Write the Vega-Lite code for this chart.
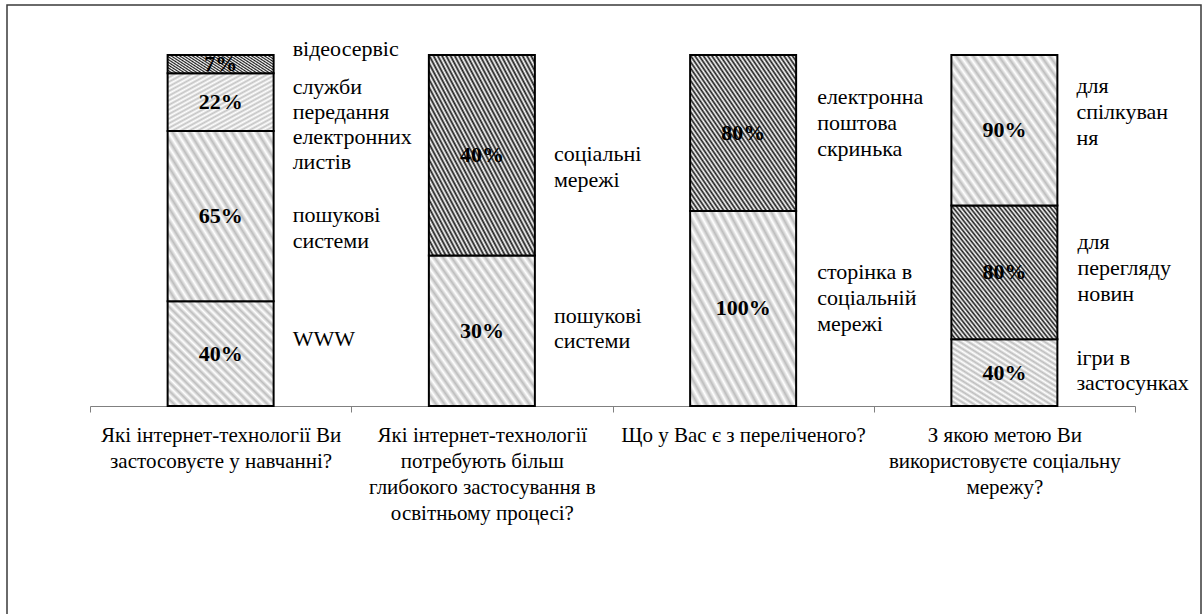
{
  "$schema": "https://vega.github.io/schema/vega-lite/v6.json",
  "width": 1194,
  "height": 612,
  "autosize": {"type": "none"},
  "padding": {"left": 7, "top": 5, "right": 3, "bottom": -3},
  "config": {
    "view": {"stroke": "#3a3a3a", "strokeWidth": 1.5},
    "font": "Times New Roman, Liberation Serif, DejaVu Serif, serif"
  },
  "params": [
    {"name": "dense", "value": {"gradient": "linear", "x1": 0, "y1": 1, "x2": 1, "y2": 0, "stops": [
      {"offset": 0.00, "color": "#1a1a1a"}, {"offset": 0.01, "color": "#ffffff"}, {"offset": 0.02, "color": "#1a1a1a"}, {"offset": 0.03, "color": "#ffffff"}, {"offset": 0.04, "color": "#1a1a1a"},
      {"offset": 0.05, "color": "#ffffff"}, {"offset": 0.06, "color": "#1a1a1a"}, {"offset": 0.07, "color": "#ffffff"}, {"offset": 0.08, "color": "#1a1a1a"}, {"offset": 0.09, "color": "#ffffff"},
      {"offset": 0.10, "color": "#1a1a1a"}, {"offset": 0.11, "color": "#ffffff"}, {"offset": 0.12, "color": "#1a1a1a"}, {"offset": 0.13, "color": "#ffffff"}, {"offset": 0.14, "color": "#1a1a1a"},
      {"offset": 0.15, "color": "#ffffff"}, {"offset": 0.16, "color": "#1a1a1a"}, {"offset": 0.17, "color": "#ffffff"}, {"offset": 0.18, "color": "#1a1a1a"}, {"offset": 0.19, "color": "#ffffff"},
      {"offset": 0.20, "color": "#1a1a1a"}, {"offset": 0.21, "color": "#ffffff"}, {"offset": 0.22, "color": "#1a1a1a"}, {"offset": 0.23, "color": "#ffffff"}, {"offset": 0.24, "color": "#1a1a1a"},
      {"offset": 0.25, "color": "#ffffff"}, {"offset": 0.26, "color": "#1a1a1a"}, {"offset": 0.27, "color": "#ffffff"}, {"offset": 0.28, "color": "#1a1a1a"}, {"offset": 0.29, "color": "#ffffff"},
      {"offset": 0.30, "color": "#1a1a1a"}, {"offset": 0.31, "color": "#ffffff"}, {"offset": 0.32, "color": "#1a1a1a"}, {"offset": 0.33, "color": "#ffffff"}, {"offset": 0.34, "color": "#1a1a1a"},
      {"offset": 0.35, "color": "#ffffff"}, {"offset": 0.36, "color": "#1a1a1a"}, {"offset": 0.37, "color": "#ffffff"}, {"offset": 0.38, "color": "#1a1a1a"}, {"offset": 0.39, "color": "#ffffff"},
      {"offset": 0.40, "color": "#1a1a1a"}, {"offset": 0.41, "color": "#ffffff"}, {"offset": 0.42, "color": "#1a1a1a"}, {"offset": 0.43, "color": "#ffffff"}, {"offset": 0.44, "color": "#1a1a1a"},
      {"offset": 0.45, "color": "#ffffff"}, {"offset": 0.46, "color": "#1a1a1a"}, {"offset": 0.47, "color": "#ffffff"}, {"offset": 0.48, "color": "#1a1a1a"}, {"offset": 0.49, "color": "#ffffff"},
      {"offset": 0.50, "color": "#1a1a1a"}, {"offset": 0.51, "color": "#ffffff"}, {"offset": 0.52, "color": "#1a1a1a"}, {"offset": 0.53, "color": "#ffffff"}, {"offset": 0.54, "color": "#1a1a1a"},
      {"offset": 0.55, "color": "#ffffff"}, {"offset": 0.56, "color": "#1a1a1a"}, {"offset": 0.57, "color": "#ffffff"}, {"offset": 0.58, "color": "#1a1a1a"}, {"offset": 0.59, "color": "#ffffff"},
      {"offset": 0.60, "color": "#1a1a1a"}, {"offset": 0.61, "color": "#ffffff"}, {"offset": 0.62, "color": "#1a1a1a"}, {"offset": 0.63, "color": "#ffffff"}, {"offset": 0.64, "color": "#1a1a1a"},
      {"offset": 0.65, "color": "#ffffff"}, {"offset": 0.66, "color": "#1a1a1a"}, {"offset": 0.67, "color": "#ffffff"}, {"offset": 0.68, "color": "#1a1a1a"}, {"offset": 0.69, "color": "#ffffff"},
      {"offset": 0.70, "color": "#1a1a1a"}, {"offset": 0.71, "color": "#ffffff"}, {"offset": 0.72, "color": "#1a1a1a"}, {"offset": 0.73, "color": "#ffffff"}, {"offset": 0.74, "color": "#1a1a1a"},
      {"offset": 0.75, "color": "#ffffff"}, {"offset": 0.76, "color": "#1a1a1a"}, {"offset": 0.77, "color": "#ffffff"}, {"offset": 0.78, "color": "#1a1a1a"}, {"offset": 0.79, "color": "#ffffff"},
      {"offset": 0.80, "color": "#1a1a1a"}, {"offset": 0.81, "color": "#ffffff"}, {"offset": 0.82, "color": "#1a1a1a"}, {"offset": 0.83, "color": "#ffffff"}, {"offset": 0.84, "color": "#1a1a1a"},
      {"offset": 0.85, "color": "#ffffff"}, {"offset": 0.86, "color": "#1a1a1a"}, {"offset": 0.87, "color": "#ffffff"}, {"offset": 0.88, "color": "#1a1a1a"}, {"offset": 0.89, "color": "#ffffff"},
      {"offset": 0.90, "color": "#1a1a1a"}, {"offset": 0.91, "color": "#ffffff"}, {"offset": 0.92, "color": "#1a1a1a"}, {"offset": 0.93, "color": "#ffffff"}, {"offset": 0.94, "color": "#1a1a1a"},
      {"offset": 0.95, "color": "#ffffff"}, {"offset": 0.96, "color": "#1a1a1a"}, {"offset": 0.97, "color": "#ffffff"}, {"offset": 0.98, "color": "#1a1a1a"}, {"offset": 0.99, "color": "#ffffff"},
      {"offset": 1.00, "color": "#1a1a1a"}
    ]}},
    {"name": "light", "value": {"gradient": "linear", "x1": 0, "y1": 1, "x2": 1, "y2": 0, "stops": [
      {"offset": 0.00, "color": "#bdbdbd"}, {"offset": 0.02, "color": "#ffffff"}, {"offset": 0.04, "color": "#bdbdbd"}, {"offset": 0.06, "color": "#ffffff"}, {"offset": 0.08, "color": "#bdbdbd"},
      {"offset": 0.10, "color": "#ffffff"}, {"offset": 0.12, "color": "#bdbdbd"}, {"offset": 0.14, "color": "#ffffff"}, {"offset": 0.16, "color": "#bdbdbd"}, {"offset": 0.18, "color": "#ffffff"},
      {"offset": 0.20, "color": "#bdbdbd"}, {"offset": 0.22, "color": "#ffffff"}, {"offset": 0.24, "color": "#bdbdbd"}, {"offset": 0.26, "color": "#ffffff"}, {"offset": 0.28, "color": "#bdbdbd"},
      {"offset": 0.30, "color": "#ffffff"}, {"offset": 0.32, "color": "#bdbdbd"}, {"offset": 0.34, "color": "#ffffff"}, {"offset": 0.36, "color": "#bdbdbd"}, {"offset": 0.38, "color": "#ffffff"},
      {"offset": 0.40, "color": "#bdbdbd"}, {"offset": 0.42, "color": "#ffffff"}, {"offset": 0.44, "color": "#bdbdbd"}, {"offset": 0.46, "color": "#ffffff"}, {"offset": 0.48, "color": "#bdbdbd"},
      {"offset": 0.50, "color": "#ffffff"}, {"offset": 0.52, "color": "#bdbdbd"}, {"offset": 0.54, "color": "#ffffff"}, {"offset": 0.56, "color": "#bdbdbd"}, {"offset": 0.58, "color": "#ffffff"},
      {"offset": 0.60, "color": "#bdbdbd"}, {"offset": 0.62, "color": "#ffffff"}, {"offset": 0.64, "color": "#bdbdbd"}, {"offset": 0.66, "color": "#ffffff"}, {"offset": 0.68, "color": "#bdbdbd"},
      {"offset": 0.70, "color": "#ffffff"}, {"offset": 0.72, "color": "#bdbdbd"}, {"offset": 0.74, "color": "#ffffff"}, {"offset": 0.76, "color": "#bdbdbd"}, {"offset": 0.78, "color": "#ffffff"},
      {"offset": 0.80, "color": "#bdbdbd"}, {"offset": 0.82, "color": "#ffffff"}, {"offset": 0.84, "color": "#bdbdbd"}, {"offset": 0.86, "color": "#ffffff"}, {"offset": 0.88, "color": "#bdbdbd"},
      {"offset": 0.90, "color": "#ffffff"}, {"offset": 0.92, "color": "#bdbdbd"}, {"offset": 0.94, "color": "#ffffff"}, {"offset": 0.96, "color": "#bdbdbd"}, {"offset": 0.98, "color": "#ffffff"},
      {"offset": 1.00, "color": "#bdbdbd"}
    ]}},
    {"name": "dash", "value": {"gradient": "linear", "x1": 0, "y1": 0, "x2": 1, "y2": 1, "stops": [
      {"offset": 0.00, "color": "#c4c4c4"}, {"offset": 0.02, "color": "#ffffff"}, {"offset": 0.04, "color": "#c4c4c4"}, {"offset": 0.06, "color": "#ffffff"}, {"offset": 0.08, "color": "#c4c4c4"},
      {"offset": 0.10, "color": "#ffffff"}, {"offset": 0.12, "color": "#c4c4c4"}, {"offset": 0.14, "color": "#ffffff"}, {"offset": 0.16, "color": "#c4c4c4"}, {"offset": 0.18, "color": "#ffffff"},
      {"offset": 0.20, "color": "#c4c4c4"}, {"offset": 0.22, "color": "#ffffff"}, {"offset": 0.24, "color": "#c4c4c4"}, {"offset": 0.26, "color": "#ffffff"}, {"offset": 0.28, "color": "#c4c4c4"},
      {"offset": 0.30, "color": "#ffffff"}, {"offset": 0.32, "color": "#c4c4c4"}, {"offset": 0.34, "color": "#ffffff"}, {"offset": 0.36, "color": "#c4c4c4"}, {"offset": 0.38, "color": "#ffffff"},
      {"offset": 0.40, "color": "#c4c4c4"}, {"offset": 0.42, "color": "#ffffff"}, {"offset": 0.44, "color": "#c4c4c4"}, {"offset": 0.46, "color": "#ffffff"}, {"offset": 0.48, "color": "#c4c4c4"},
      {"offset": 0.50, "color": "#ffffff"}, {"offset": 0.52, "color": "#c4c4c4"}, {"offset": 0.54, "color": "#ffffff"}, {"offset": 0.56, "color": "#c4c4c4"}, {"offset": 0.58, "color": "#ffffff"},
      {"offset": 0.60, "color": "#c4c4c4"}, {"offset": 0.62, "color": "#ffffff"}, {"offset": 0.64, "color": "#c4c4c4"}, {"offset": 0.66, "color": "#ffffff"}, {"offset": 0.68, "color": "#c4c4c4"},
      {"offset": 0.70, "color": "#ffffff"}, {"offset": 0.72, "color": "#c4c4c4"}, {"offset": 0.74, "color": "#ffffff"}, {"offset": 0.76, "color": "#c4c4c4"}, {"offset": 0.78, "color": "#ffffff"},
      {"offset": 0.80, "color": "#c4c4c4"}, {"offset": 0.82, "color": "#ffffff"}, {"offset": 0.84, "color": "#c4c4c4"}, {"offset": 0.86, "color": "#ffffff"}, {"offset": 0.88, "color": "#c4c4c4"},
      {"offset": 0.90, "color": "#ffffff"}, {"offset": 0.92, "color": "#c4c4c4"}, {"offset": 0.94, "color": "#ffffff"}, {"offset": 0.96, "color": "#c4c4c4"}, {"offset": 0.98, "color": "#ffffff"},
      {"offset": 1.00, "color": "#c4c4c4"}
    ]}}
  ],
  "data": {
    "values": [
      {"q": "Які інтернет-технології Ви\nзастосовуєте у навчанні?", "seg": "WWW", "share": 0.40, "rank": 1},
      {"q": "Які інтернет-технології Ви\nзастосовуєте у навчанні?", "seg": "пошукові\nсистеми", "share": 0.65, "rank": 2},
      {"q": "Які інтернет-технології Ви\nзастосовуєте у навчанні?", "seg": "служби\nпередання\nелектронних\nлистів", "share": 0.22, "rank": 3},
      {"q": "Які інтернет-технології Ви\nзастосовуєте у навчанні?", "seg": "відеосервіс", "share": 0.07, "rank": 4},
      {"q": "Які інтернет-технології\nпотребують більш\nглибокого застосування в\nосвітньому процесі?", "seg": "пошукові\nсистеми", "share": 0.30, "rank": 1},
      {"q": "Які інтернет-технології\nпотребують більш\nглибокого застосування в\nосвітньому процесі?", "seg": "соціальні\nмережі", "share": 0.40, "rank": 2},
      {"q": "Що у Вас є з переліченого?", "seg": "сторінка в\nсоціальній\nмережі", "share": 1.00, "rank": 1},
      {"q": "Що у Вас є з переліченого?", "seg": "електронна\nпоштова\nскринька", "share": 0.80, "rank": 2},
      {"q": "З якою метою Ви\nвикористовуєте соціальну\nмережу?", "seg": "ігри в\nзастосунках", "share": 0.40, "rank": 1},
      {"q": "З якою метою Ви\nвикористовуєте соціальну\nмережу?", "seg": "для\nперегляду\nновин", "share": 0.80, "rank": 2},
      {"q": "З якою метою Ви\nвикористовуєте соціальну\nмережу?", "seg": "для\nспілкуван\nня", "share": 0.90, "rank": 3}
    ]
  },
  "encoding": {
    "x": {
      "field": "q",
      "type": "nominal",
      "sort": null,
      "scale": {"range": [83, 1128], "paddingInner": 0, "paddingOuter": 0},
      "axis": {
        "title": null,
        "labelAngle": 0,
        "labelExpr": "split(datum.label, '\\n')",
        "labelFontSize": 21,
        "labelColor": "black",
        "labelLineHeight": 26,
        "labelBaseline": "top",
        "labelPadding": 12,
        "labelLimit": 0,
        "tickBand": "extent",
        "tickSize": 6,
        "tickColor": "#808080",
        "domainColor": "#808080",
        "offset": -211
      }
    },
    "y": {
      "field": "share",
      "type": "quantitative",
      "stack": "normalize",
      "scale": {"domain": [-0.60114, 1.14245], "nice": false, "zero": false},
      "axis": null
    },
    "order": {"field": "rank", "type": "quantitative"},
    "detail": {"field": "seg", "type": "nominal"}
  },
  "layer": [
    {
      "mark": {"type": "bar", "width": 106, "stroke": "black", "strokeWidth": 2},
      "encoding": {
        "fill": {
          "condition": [
            {"test": "datum.seg === 'відеосервіс' || indexof(datum.seg, 'соціальні') === 0 || indexof(datum.seg, 'електрон') === 0 || indexof(datum.seg, 'перегляд') >= 0", "value": {"expr": "dense"}},
            {"test": "indexof(datum.seg, 'служби') === 0", "value": {"expr": "dash"}}
          ],
          "value": {"expr": "light"}
        }
      }
    },
    {
      "mark": {"type": "text", "fontSize": 22, "fontWeight": "bold", "color": "black", "baseline": "middle", "align": "center"},
      "encoding": {
        "y": {"field": "share", "type": "quantitative", "stack": "normalize", "bandPosition": 0.5},
        "text": {"field": "share", "type": "quantitative", "format": ".0%"}
      }
    },
    {
      "mark": {"type": "text", "fontSize": 22, "color": "black", "baseline": "middle", "align": "left", "dx": 72, "dy": -15, "lineBreak": "\n", "lineHeight": 25},
      "encoding": {
        "y": {"field": "share", "type": "quantitative", "stack": "normalize", "bandPosition": 0.5},
        "text": {"condition": {"test": "datum.seg === 'WWW' || datum.seg === 'відеосервіс' || indexof(datum.seg, 'служби') === 0 || indexof(datum.seg, 'ігри') === 0 || (indexof(datum.seg, 'пошук') === 0 && datum.rank === 1)", "field": "seg", "type": "nominal"}, "value": ""}
      }
    },
    {
      "mark": {"type": "text", "fontSize": 22, "color": "black", "baseline": "middle", "align": "left", "dx": 72, "dy": -1, "lineBreak": "\n", "lineHeight": 26},
      "encoding": {
        "y": {"field": "share", "type": "quantitative", "stack": "normalize", "bandPosition": 0.5},
        "text": {"condition": {"test": "indexof(datum.seg, 'соціальні') === 0 || (indexof(datum.seg, 'пошук') === 0 && datum.rank === 2)", "field": "seg", "type": "nominal"}, "value": ""}
      }
    },
    {
      "mark": {"type": "text", "fontSize": 22, "color": "black", "baseline": "middle", "align": "left", "dx": 74, "dy": -36, "lineBreak": "\n", "lineHeight": 26},
      "encoding": {
        "y": {"field": "share", "type": "quantitative", "stack": "normalize", "bandPosition": 0.5},
        "text": {"condition": {"test": "indexof(datum.seg, 'електрон') === 0 || indexof(datum.seg, 'сторінка') === 0", "field": "seg", "type": "nominal"}, "value": ""}
      }
    },
    {
      "mark": {"type": "text", "fontSize": 22, "color": "black", "baseline": "middle", "align": "left", "dx": 73, "dy": -30, "lineBreak": "\n", "lineHeight": 26},
      "encoding": {
        "y": {"field": "share", "type": "quantitative", "stack": "normalize", "bandPosition": 0.5},
        "text": {"condition": {"test": "indexof(datum.seg, 'перегляд') >= 0", "field": "seg", "type": "nominal"}, "value": ""}
      }
    },
    {
      "mark": {"type": "text", "fontSize": 22, "color": "black", "baseline": "middle", "align": "left", "dx": 72, "dy": -44, "lineBreak": "\n", "lineHeight": 26},
      "encoding": {
        "y": {"field": "share", "type": "quantitative", "stack": "normalize", "bandPosition": 0.5},
        "text": {"condition": {"test": "indexof(datum.seg, 'спілк') >= 0", "field": "seg", "type": "nominal"}, "value": ""}
      }
    }
  ]
}
